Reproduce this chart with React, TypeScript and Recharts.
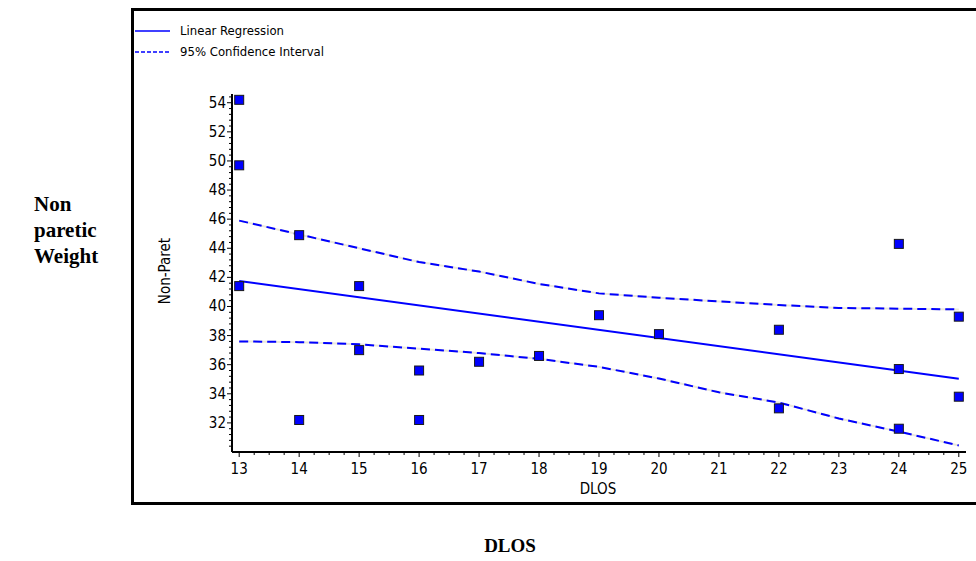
import React from 'react';
import { ComposedChart, Line, Scatter, XAxis, YAxis, Legend } from 'recharts';

// observed DLOS / non-paretic weight pairs
const dlos = [13, 13, 13, 14, 14, 15, 15, 16, 16, 17, 18, 19, 20, 22, 22, 24, 24, 24, 25, 25];
const weight = [54.2, 49.7, 41.4, 44.9, 32.2, 41.4, 37.0, 35.6, 32.2, 36.2, 36.6, 39.4, 38.1, 38.4, 33.0, 44.3, 35.7, 31.6, 39.3, 33.8];

// fitted line end points
const fitX = [13, 25];
const fitY = [41.75, 35.03];

// 95% confidence band, read at each whole DLOS value
const bandX = [13, 14, 15, 16, 17, 18, 19, 20, 21, 22, 23, 24, 25];
const bandUpper = [45.9, 44.95, 44.0, 43.05, 42.4, 41.55, 40.9, 40.6, 40.35, 40.1, 39.9, 39.85, 39.8];
const bandLower = [37.6, 37.55, 37.4, 37.1, 36.8, 36.4, 35.85, 35.05, 34.1, 33.4, 32.3, 31.4, 30.45];

const xLabels = [13, 14, 15, 16, 17, 18, 19, 20, 21, 22, 23, 24, 25];
const yLabels = [32, 34, 36, 38, 40, 42, 44, 46, 48, 50, 52, 54];

const points = dlos.map((x, i) => ({ x, y: weight[i] }));
const fit = fitX.map((x, i) => ({ x, y: fitY[i] }));
const upper = bandX.map((x, i) => ({ x, y: bandUpper[i] }));
const lower = bandX.map((x, i) => ({ x, y: bandLower[i] }));

// minor ticks: quarter steps on x, 0.4 steps on y
const xTicks: number[] = [];
for (let k = 0; k <= 48; k++) xTicks.push(13 + k * 0.25);
const yTicks: number[] = [];
for (let k = 1; k <= 61; k++) yTicks.push(30 + k * 0.4);

const isLabel = (v: number, list: number[]) => list.some((l) => Math.abs(l - v) < 1e-6);

const FONT = "'Liberation Sans Narrow', 'DejaVu Sans Condensed', 'Liberation Sans', sans-serif";
const SERIF = "'Liberation Serif', 'Times New Roman', serif";
const BLUE = '#0000ff';
const GAP = '#ebe8da';

// x ticks are drawn from the axis line down
const XTick = (props: any) => {
  const { x, y, payload } = props;
  const major = isLabel(payload.value, xLabels);
  return (
    <g>
      <line x1={x} x2={x} y1={y} y2={y + (major ? 5 : 3)} stroke="#000" strokeWidth={1} />
      {major && (
        <text x={x} y={y + 22} textAnchor="middle" fontSize={15} fontFamily={FONT} fill="#000">
          {payload.value}
        </text>
      )}
    </g>
  );
};

const YTick = (props: any) => {
  const { x, y, payload } = props;
  const major = isLabel(payload.value, yLabels);
  return (
    <g>
      <line x1={x} x2={x - (major ? 5 : 3)} y1={y} y2={y} stroke="#000" strokeWidth={1} />
      {major && (
        <text x={x - 6} y={y + 5} textAnchor="end" fontSize={15} fontFamily={FONT} fill="#000">
          {payload.value}
        </text>
      )}
    </g>
  );
};

const Square = (props: any) => {
  const { cx, cy } = props;
  return <rect x={cx - 4.5} y={cy - 4.5} width={9} height={9} fill={BLUE} stroke="#1a1a1a" strokeWidth={1} />;
};

const LegendBox = () => (
  <div style={{ fontFamily: FONT, fontSize: 13, color: '#000' }}>
    <div style={{ display: 'flex', alignItems: 'center', height: 21 }}>
      <svg width={46} height={4}>
        <line x1={1} x2={36} y1={2} y2={2} stroke={BLUE} strokeWidth={1.5} />
      </svg>
      <span>Linear Regression</span>
    </div>
    <div style={{ display: 'flex', alignItems: 'center', height: 21 }}>
      <svg width={46} height={4}>
        <line x1={1} x2={36} y1={2} y2={2} stroke={BLUE} strokeWidth={1.5} strokeDasharray="4 2" />
      </svg>
      <span>95% Confidence Interval</span>
    </div>
  </div>
);

export default function App() {
  return (
    <div style={{ position: 'absolute', left: 0, top: 0, width: 976, height: 561, overflow: 'hidden', background: '#fff' }}>
      <div
        style={{
          position: 'absolute',
          left: 131,
          top: 8,
          width: 900,
          height: 497,
          border: '3px solid #000',
          boxSizing: 'border-box',
        }}
      />
      <div style={{ position: 'absolute', left: 0, top: 0 }}>
        <ComposedChart width={976} height={561} margin={{ top: 94, right: 10, bottom: 69, left: 172 }}>
          <XAxis
            type="number"
            dataKey="x"
            domain={[12.88, 25.12]}
            ticks={xTicks}
            interval={0}
            height={40}
            tickSize={0}
            tickMargin={0}
            tickLine={false}
            tick={<XTick />}
            axisLine={{ stroke: '#000', strokeWidth: 2 }}
            allowDataOverflow
          />
          <YAxis
            type="number"
            dataKey="y"
            domain={[30, 54.6]}
            ticks={yTicks}
            interval={0}
            width={60}
            tickSize={0}
            tickMargin={0}
            tickLine={false}
            tick={<YTick />}
            axisLine={{ stroke: '#000', strokeWidth: 2 }}
            allowDataOverflow
          />
          <Legend
            layout="horizontal"
            verticalAlign="middle"
            align="center"
            content={<LegendBox />}
            wrapperStyle={{ left: 134, top: 20, width: 260 }}
          />
          <Line data={upper} dataKey="y" type="linear" stroke={GAP} strokeWidth={2} dot={false} isAnimationActive={false} legendType="none" />
          <Line data={upper} dataKey="y" type="linear" stroke={BLUE} strokeWidth={2} strokeDasharray="9 5" dot={false} isAnimationActive={false} legendType="none" />
          <Line data={lower} dataKey="y" type="linear" stroke={GAP} strokeWidth={2} dot={false} isAnimationActive={false} legendType="none" />
          <Line data={lower} dataKey="y" type="linear" stroke={BLUE} strokeWidth={2} strokeDasharray="9 5" dot={false} isAnimationActive={false} legendType="none" />
          <Line data={fit} dataKey="y" type="linear" stroke={BLUE} strokeWidth={2} dot={false} isAnimationActive={false} legendType="none" />
          <Scatter data={points} dataKey="y" shape={<Square />} isAnimationActive={false} legendType="none" />
        </ComposedChart>
      </div>
      <div style={{ position: 'absolute', left: 598, top: 480, transform: 'translateX(-50%)', fontFamily: FONT, fontSize: 15 }}>
        DLOS
      </div>
      <div style={{ position: 'absolute', left: 165, top: 271, transform: 'translate(-50%, -50%) rotate(-90deg)', fontFamily: FONT, fontSize: 15, whiteSpace: 'nowrap' }}>
        Non-Paret
      </div>
      <div style={{ position: 'absolute', left: 34, top: 191, fontFamily: SERIF, fontWeight: 'bold', fontSize: 21, lineHeight: '26px' }}>
        Non
        <br />
        paretic
        <br />
        Weight
      </div>
      <div style={{ position: 'absolute', left: 510, top: 535, transform: 'translateX(-50%)', fontFamily: SERIF, fontWeight: 'bold', fontSize: 19 }}>
        DLOS
      </div>
    </div>
  );
}
